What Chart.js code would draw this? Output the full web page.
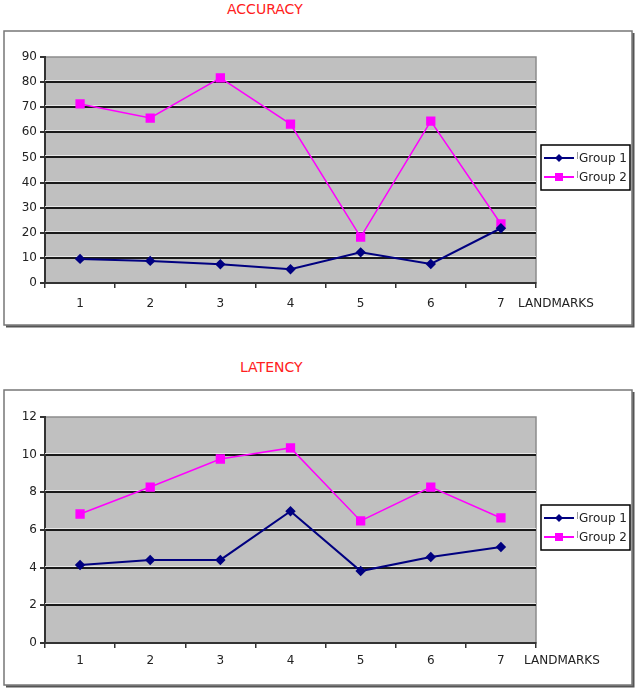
<!DOCTYPE html>
<html>
<head>
<meta charset="utf-8">
<script src="https://cdn.jsdelivr.net/npm/chart.js@4"></script>
<style>
  body { margin: 0; background: #fff; width: 638px; height: 693px; position: relative; overflow: hidden; font-family: "DejaVu Sans", sans-serif; }
  .box { position: absolute; left: 3px; width: 632px; }
  .title { position: absolute; color: #ff2020; font-size: 14px; white-space: nowrap; }
  .xname { position: absolute; color: #222; font-size: 12px; white-space: nowrap; }
</style>
</head>
<body>
<div class="title" style="left:227px; top:1px;">ACCURACY</div>
<div class="box" style="top:30px; height:298px;"><canvas id="accuracyChart"></canvas></div>
<div class="xname" style="left:518px; top:296px;">LANDMARKS</div>

<div class="title" style="left:240px; top:359px;">LATENCY</div>
<div class="box" style="top:389px; height:299px;"><canvas id="latencyChart"></canvas></div>
<div class="xname" style="left:524px; top:653px;">LANDMARKS</div>

<script>
let landmarks = ["1", "2", "3", "4", "5", "6", "7"];
let seriesNames = ["Group 1", "Group 2"];

let accuracyGroup1 = [9.6, 8.8, 7.5, 5.5, 12.2, 7.6, 21.8];
let accuracyGroup2 = [71.3, 65.7, 81.7, 63.3, 18.3, 64.5, 23.5];

let latencyGroup1 = [4.14, 4.41, 4.41, 7.0, 3.82, 4.57, 5.1];
let latencyGroup2 = [6.85, 8.28, 9.77, 10.36, 6.48, 8.28, 6.64];

// frame, grey plot area, light line above each grid line
const excelLook = {
  id: "excelLook",
  beforeDraw(chart) {
    const c = chart.ctx;
    const w = chart.width, h = chart.height;
    const a = chart.chartArea;
    c.save();
    c.fillStyle = "#fff";
    c.fillRect(0, 0, w, h);
    c.strokeStyle = "#777";
    c.lineWidth = 1.5;
    c.strokeRect(1, 1, w - 4, h - 4);
    c.strokeStyle = "#555";
    c.lineWidth = 2;
    c.beginPath();
    c.moveTo(w - 1.5, 3);
    c.lineTo(w - 1.5, h - 1.5);
    c.lineTo(3, h - 1.5);
    c.stroke();
    c.fillStyle = "#c0c0c0";
    c.fillRect(a.left, a.top, a.right - a.left, a.bottom - a.top);
    c.strokeStyle = "#8c8c8c";
    c.lineWidth = 1.5;
    c.strokeRect(a.left, a.top, a.right - a.left, a.bottom - a.top);
    c.restore();
  },
  beforeDatasetsDraw(chart) {
    const c = chart.ctx;
    const a = chart.chartArea;
    const y = chart.scales.y;
    c.save();
    c.strokeStyle = "#e6e6e6";
    c.lineWidth = 1;
    y.ticks.forEach((t) => {
      if (t.value === y.min || t.value === y.max) return;
      const py = Math.round(y.getPixelForValue(t.value)) - 1.5;
      c.beginPath();
      c.moveTo(a.left, py);
      c.lineTo(a.right, py);
      c.stroke();
    });
    c.restore();
  },
  afterDraw(chart) {
    // boxed legend right of the plot
    const c = chart.ctx;
    const a = chart.chartArea;
    const mid = (a.top + a.bottom) / 2;
    const bx = a.right + 5, by = mid - 25, bw = 89, bh = 45;
    c.save();
    c.fillStyle = "#fff";
    c.fillRect(bx, by, bw, bh);
    c.strokeStyle = "#000";
    c.lineWidth = 1.5;
    c.strokeRect(bx, by, bw, bh);
    c.font = "12px 'DejaVu Sans'";
    c.textBaseline = "middle";
    chart.data.datasets.forEach((ds, i) => {
      const ry = by + 13 + i * 19;
      c.strokeStyle = ds.borderColor;
      c.lineWidth = 2;
      c.beginPath();
      c.moveTo(bx + 3, ry);
      c.lineTo(bx + 33, ry);
      c.stroke();
      c.fillStyle = ds.borderColor;
      const cx = bx + 18;
      if (ds.pointStyle === "rect") {
        c.fillRect(cx - 4, ry - 4, 8, 8);
      } else {
        c.beginPath();
        c.moveTo(cx, ry - 4);
        c.lineTo(cx + 4, ry);
        c.lineTo(cx, ry + 4);
        c.lineTo(cx - 4, ry);
        c.closePath();
        c.fill();
      }
      c.strokeStyle = "#999";
      c.lineWidth = 1;
      c.beginPath();
      c.moveTo(bx + 36.5, ry - 6);
      c.lineTo(bx + 36.5, ry + 1);
      c.stroke();
      c.fillStyle = "#222";
      c.fillText(ds.label, bx + 38, ry + 1);
    });
    c.restore();
  },
};

function makeChart(id, g1, g2, yMax, yStep, topPad, labelPad) {
  let ctx = document.getElementById(id).getContext("2d");
  return new Chart(ctx, {
    type: "line",
    data: {
      labels: landmarks,
      datasets: [
        {
          label: seriesNames[0],
          data: g1,
          borderColor: "#000080",
          backgroundColor: "#000080",
          borderWidth: 2,
          pointStyle: "rectRot",
          pointRadius: 3.8,
          tension: 0,
        },
        {
          label: seriesNames[1],
          data: g2,
          borderColor: "#ff00ff",
          backgroundColor: "#ff00ff",
          borderWidth: 1.5,
          pointStyle: "rect",
          pointRadius: 5.5,
          tension: 0,
        },
      ],
    },
    options: {
      responsive: true,
      maintainAspectRatio: false,
      animation: false,
      layout: { padding: { left: 0, right: 99, top: topPad, bottom: 15 } },
      plugins: {
        legend: { display: false },
        title: { display: false },
        tooltip: { enabled: false },
      },
      scales: {
        x: {
          offset: true,
          afterFit: (s) => { s.height = 30; },
          grid: { offset: true, drawOnChartArea: false, tickLength: 5, tickColor: "#333", lineWidth: 1.5 },
          border: { color: "#333", width: 2 },
          ticks: { color: "#222", font: { family: "DejaVu Sans", size: 12 }, padding: labelPad, maxRotation: 0 },
        },
        y: {
          min: 0,
          max: yMax,
          afterFit: (s) => { s.width = 42; },
          grid: {
            color: (c) => (c.tick && c.tick.value === yMax ? "rgba(0,0,0,0)" : "#1a1a1a"),
            lineWidth: 2,
            tickLength: 5,
            tickColor: "#333",
          },
          border: { color: "#333", width: 2 },
          ticks: { stepSize: yStep, color: "#222", font: { family: "DejaVu Sans", size: 12 }, padding: 3 },
        },
      },
    },
    plugins: [excelLook],
  });
}

makeChart("accuracyChart", accuracyGroup1, accuracyGroup2, 90, 10, 27, 9);
makeChart("latencyChart", latencyGroup1, latencyGroup2, 12, 2, 28, 6);
</script>
</body>
</html>
